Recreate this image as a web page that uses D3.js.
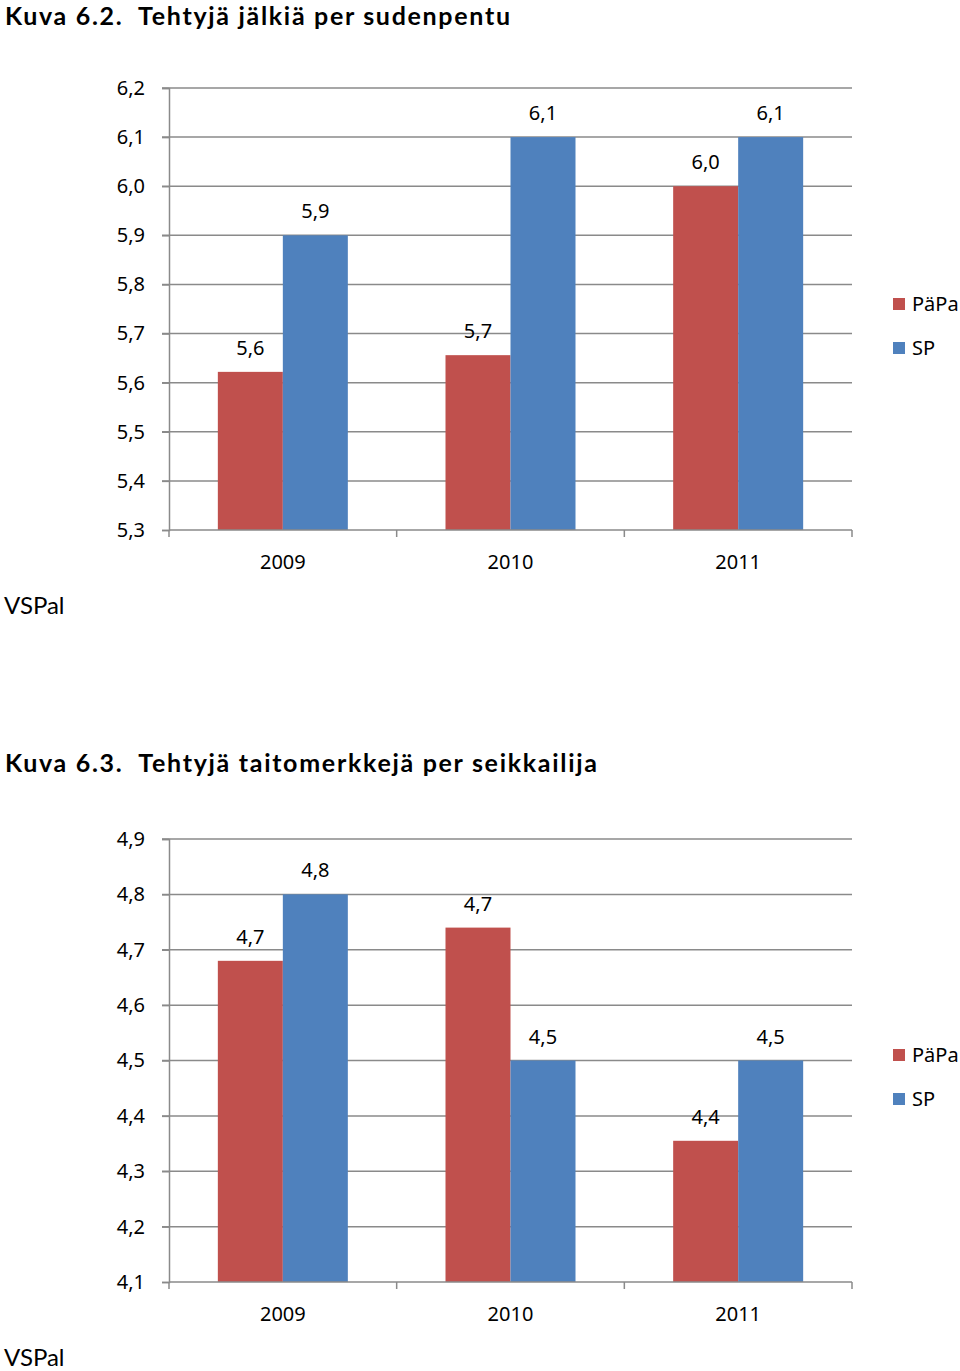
<!DOCTYPE html>
<html><head><meta charset="utf-8">
<script src="https://cdn.jsdelivr.net/npm/d3@7"></script>
<style>
body{margin:0;background:#fff;}
svg{display:block;}
</style></head>
<body>
<svg id="c" width="960" height="1371"></svg>
<script>
const categories = ["2009", "2010", "2011"];
const seriesNames = ["PäPa", "SP"];
const seriesColors = ["#C0504D", "#4F81BD"];

const chart1Title = "Kuva 6.2.  Tehtyjä jälkiä per sudenpentu";
const chart1PaPa = [5.622, 5.656, 6.0];
const chart1SP = [5.9, 6.1, 6.1];
const chart1Ticks = [5.3, 5.4, 5.5, 5.6, 5.7, 5.8, 5.9, 6.0, 6.1, 6.2];

const chart2Title = "Kuva 6.3.  Tehtyjä taitomerkkejä per seikkailija";
const chart2PaPa = [4.68, 4.74, 4.355];
const chart2SP = [4.8, 4.5, 4.5];
const chart2Ticks = [4.1, 4.2, 4.3, 4.4, 4.5, 4.6, 4.7, 4.8, 4.9];

const footer = "VSPal";

const svg = d3.select("#c");
const fmt = v => v.toFixed(1).replace(".", ",");
const labelFont = "'Noto Sans', 'Liberation Sans', sans-serif";
const titleFont = "Lato, 'Noto Sans', sans-serif";

function drawTitle(g, title, targetWidth, baseline) {
  const t = g.append("text").attr("x", 5).attr("y", baseline)
    .attr("font-family", titleFont).attr("font-weight", "bold")
    .attr("font-size", 25).attr("fill", "#000")
    .style("white-space", "pre").attr("xml:space", "preserve")
    .text(title);
  t.attr("textLength", targetWidth).attr("lengthAdjust", "spacing");
  return t;
}

function drawChart(g, series, ticks, top, bottom) {
  const x0 = d3.scaleBand().domain(categories).range([169, 852])
    .paddingInner(0.429).paddingOuter(0.2145);
  const x1 = d3.scaleBand().domain(seriesNames).range([0, x0.bandwidth()]);
  const y = d3.scaleLinear().domain([ticks[0], ticks[ticks.length - 1]]).range([bottom, top]);

  // gridlines
  g.append("g").selectAll("line").data(ticks.slice(1)).join("line")
    .attr("x1", 162).attr("x2", 852)
    .attr("y1", d => y(d)).attr("y2", d => y(d))
    .attr("stroke", "#8a8a8a").attr("stroke-width", 1.5);

  // y axis
  const yAxis = d3.axisLeft(y).tickValues(ticks).tickSize(7).tickPadding(17).tickFormat(fmt);
  const ya = g.append("g").attr("transform", "translate(169,0)").call(yAxis);
  ya.select(".domain").attr("stroke", "#8a8a8a").attr("stroke-width", 1.5);
  ya.selectAll(".tick line").attr("stroke", "#8a8a8a").attr("stroke-width", 1.5);
  ya.selectAll(".tick text").attr("font-family", labelFont).attr("font-size", 20).attr("fill", "#000");

  // bars
  const data = categories.map((c, i) => ({cat: c, vals: seriesNames.map((s, j) => ({s, j, v: series[j][i]}))}));
  const groups = g.append("g").selectAll("g").data(data).join("g")
    .attr("transform", d => `translate(${x0(d.cat)},0)`);
  groups.selectAll("rect").data(d => d.vals).join("rect")
    .attr("x", d => x1(d.s)).attr("width", x1.bandwidth())
    .attr("y", d => y(d.v)).attr("height", d => bottom - y(d.v))
    .attr("fill", d => seriesColors[d.j]);
  groups.selectAll("text").data(d => d.vals).join("text")
    .attr("x", d => x1(d.s) + x1.bandwidth() / 2).attr("y", d => y(d.v) - 17)
    .attr("text-anchor", "middle").attr("font-family", labelFont).attr("font-size", 20)
    .attr("fill", "#000").text(d => fmt(d.v));

  // x axis
  const xEdge = d3.scaleLinear().domain([0, categories.length]).range([169, 852]);
  const xa = g.append("g").attr("transform", `translate(0,${bottom})`);
  xa.append("line").attr("x1", 169).attr("x2", 852).attr("y1", 0).attr("y2", 0)
    .attr("stroke", "#8a8a8a").attr("stroke-width", 1.5);
  xa.selectAll("line.t").data(d3.range(categories.length + 1)).join("line").attr("class", "t")
    .attr("x1", d => xEdge(d)).attr("x2", d => xEdge(d)).attr("y1", 0).attr("y2", 7)
    .attr("stroke", "#8a8a8a").attr("stroke-width", 1.5);
  xa.selectAll("text").data(categories).join("text")
    .attr("x", d => x0(d) + x0.bandwidth() / 2).attr("y", 32).attr("dy", "0.35em")
    .attr("text-anchor", "middle").attr("font-family", labelFont).attr("font-size", 20)
    .attr("fill", "#000").text(d => d);
}

function legend(g, y0) {
  const lg = g.append("g");
  seriesNames.forEach((s, i) => {
    lg.append("rect").attr("x", 893).attr("y", y0 + i * 44 - 6).attr("width", 12).attr("height", 12)
      .attr("fill", seriesColors[i]);
    lg.append("text").attr("x", 912).attr("y", y0 + i * 44).attr("dy", "0.35em")
      .attr("font-family", labelFont).attr("font-size", 20).attr("fill", "#000").text(s);
  });
}

function footerText(g, yy) {
  g.append("text").attr("x", 4).attr("y", yy).attr("dy", "0.35em")
    .attr("font-family", titleFont).attr("font-size", 24).attr("fill", "#000").text(footer);
}

// Chart 1
const g1 = svg.append("g");
drawTitle(g1, chart1Title, 505, 24.5);
drawChart(g1, [chart1PaPa, chart1SP], chart1Ticks, 88, 530);
legend(g1, 304);
footerText(g1, 606);

// Chart 2
const g2 = svg.append("g");
drawTitle(g2, chart2Title, 592, 772);
drawChart(g2, [chart2PaPa, chart2SP], chart2Ticks, 839, 1282);
legend(g2, 1055);
footerText(g2, 1358);
</script>
</body></html>
